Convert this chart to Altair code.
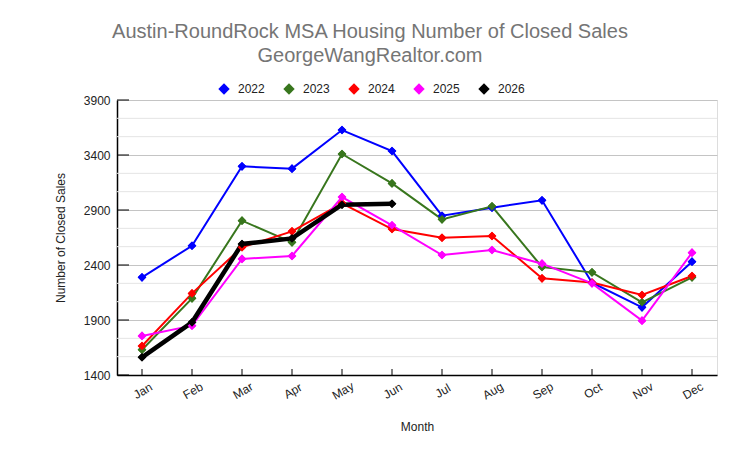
import altair as alt
import pandas as pd

months = ["Jan", "Feb", "Mar", "Apr", "May", "Jun",
          "Jul", "Aug", "Sep", "Oct", "Nov", "Dec"]
years = ["2022", "2023", "2024", "2025", "2026"]
colors = ["#0000ff", "#38761d", "#ff0000", "#ff00ff", "#000000"]

sales_2022 = [2288, 2575, 3297, 3276, 3627, 3436, 2848, 2921, 2988, 2239, 2015, 2430]
sales_2023 = [1630, 2097, 2803, 2606, 3409, 3142, 2815, 2933, 2382, 2333, 2061, 2288]
sales_2024 = [1664, 2142, 2561, 2706, 2961, 2727, 2648, 2664, 2279, 2240, 2127, 2300]
sales_2025 = [1755, 1848, 2455, 2482, 3018, 2761, 2491, 2536, 2412, 2233, 1894, 2512]
sales_2026 = [1561, 1879, 2591, 2642, 2948, 2957]

major_ticks = [1400, 1900, 2400, 2900, 3400, 3900]
minor_ticks = [1400 + i * 500 / 3 for i in range(16) if i % 3 != 0]

series = [sales_2022, sales_2023, sales_2024, sales_2025, sales_2026]
rows = []
for yr, vals in zip(years, series):
    for m, v in zip(months, vals):
        rows.append({"Month": m, "Year": yr, "Sales": v})
df = pd.DataFrame(rows)

FONT = "Liberation Sans"

x_scale = alt.Scale(type="point", domain=months, padding=0.5)
y_scale = alt.Scale(domain=[1400, 3900], nice=False, zero=False)

x_enc = alt.X("Month:N", sort=months, scale=x_scale,
              axis=alt.Axis(title="Month", labelAngle=-30, labelAlign="center",
                            labelBaseline="top", labelPadding=11, labelOffset=-2,
                            tickSize=0, domainColor="#000000", domainWidth=1.5,
                            labelColor="#222222", labelFontSize=12, labelFont=FONT,
                            titleFont=FONT, titleFontSize=12, titleFontWeight="normal",
                            titleColor="#222222", titlePadding=20, grid=False))
y_enc = alt.Y("Sales:Q", scale=y_scale,
              axis=alt.Axis(title="Number of Closed Sales", values=major_ticks,
                            format="d", tickSize=0, labelPadding=7,
                            domainColor="#000000", domainWidth=1.5,
                            labelColor="#222222", labelFontSize=12,
                            labelFont=FONT, titleFont=FONT, titleFontSize=12,
                            titleFontWeight="normal", titleColor="#222222",
                            titlePadding=16, grid=True, gridColor="#c4c4c4",
                            gridWidth=1))

legend = alt.Legend(title=None, orient="none", direction="horizontal",
                    legendX=101, legendY=-17,
                    symbolType="diamond", symbolSize=130, symbolStrokeWidth=0,
                    labelFont=FONT, labelFontSize=12, labelColor="#222222",
                    labelOffset=8, columnPadding=18, padding=0)
color_enc = alt.Color("Year:N", scale=alt.Scale(domain=years, range=colors),
                      legend=legend)

# light minor gridlines between the labelled values
minor_grid = alt.Chart(pd.DataFrame({"Sales": minor_ticks})).mark_rule(
    color="#e4e4e4", strokeWidth=1
).encode(y=y_enc)

base = alt.Chart(df)

thin_lines = base.transform_filter(alt.datum.Year != "2026").mark_line(strokeWidth=2).encode(
    x=x_enc, y=y_enc, color=color_enc,
)
bold_line = base.transform_filter(alt.datum.Year == "2026").mark_line(strokeWidth=4.5).encode(
    x=x_enc, y=y_enc, color=color_enc,
)
points = base.mark_point(shape="diamond", filled=True, size=75, opacity=1).encode(
    x=x_enc, y=y_enc, color=color_enc,
)

# inward tick marks on both axes
y_ticks = alt.Chart(pd.DataFrame({"Sales": major_ticks})).mark_rule(
    color="#000000", strokeWidth=1
).encode(y=y_enc, x=alt.value(0), x2=alt.value(12))

x_ticks = alt.Chart(pd.DataFrame({"Month": months})).mark_rule(
    color="#000000", strokeWidth=1
).encode(x=x_enc, y=alt.value(269), y2=alt.value(275))

chart = alt.layer(minor_grid, points, thin_lines, bold_line, points, y_ticks, x_ticks).properties(
    width=600, height=275,
    autosize=alt.AutoSizeParams(type="none"),
    padding={"left": 117, "top": 100, "right": 23, "bottom": 83},
    title=alt.TitleParams(
        ["Austin-RoundRock MSA Housing Number of Closed Sales", "GeorgeWangRealtor.com"],
        anchor="middle", font=FONT, fontSize=20, fontWeight="normal",
        color="#757575", lineHeight=24, offset=17, dx=-47),
).configure_view(strokeWidth=0, stroke="transparent").configure(background="#ffffff")

chart.save("out.html", embed_options={"renderer": "svg", "actions": False})
